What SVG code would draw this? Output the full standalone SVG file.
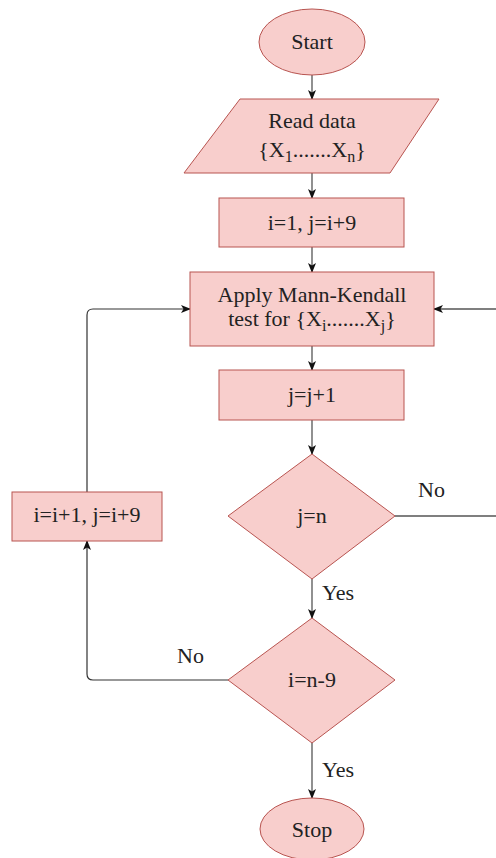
<svg xmlns="http://www.w3.org/2000/svg" width="496" height="858" viewBox="0 0 496 858">
<style>
.shape{fill:#f8cecc;stroke:#b85450;stroke-width:1}
.t{font-family:"Liberation Serif","Times New Roman",serif;font-size:22px;fill:#222;text-anchor:middle}
.lbl{font-family:"Liberation Serif","Times New Roman",serif;font-size:22px;fill:#222}
.c{fill:none;stroke:#555;stroke-width:1.3}
.c2{fill:none;stroke:#333;stroke-width:1.2}
</style>
<defs>
<marker id="arr" viewBox="0 0 10 8" refX="9" refY="4" markerWidth="10" markerHeight="8" markerUnits="userSpaceOnUse" orient="auto">
<path d="M0,0 L10,4 L0,8 L2.5,4 z" fill="#111"/>
</marker>
</defs>
<rect width="496" height="858" fill="#fff"/>
<g id="connectors">
<path class="c" d="M312,75 V99" marker-end="url(#arr)"/>
<path class="c" d="M312,173 V198" marker-end="url(#arr)"/>
<path class="c" d="M312,247 V272" marker-end="url(#arr)"/>
<path class="c" d="M312,346 V370" marker-end="url(#arr)"/>
<path class="c" d="M312,420 V454" marker-end="url(#arr)"/>
<path class="c" d="M312,579 V618" marker-end="url(#arr)"/>
<path class="c" d="M312,743 V798" marker-end="url(#arr)"/>
<path class="c" d="M395,516 H510 V309 H434" marker-end="url(#arr)"/>
<path class="c2" d="M87,492 V315 Q87,309 93,309 H190" marker-end="url(#arr)"/>
<path class="c2" d="M228,680 H93 Q87,680 87,674 V541" marker-end="url(#arr)"/>
</g>
<g id="start"><ellipse class="shape" cx="312" cy="42" rx="53" ry="33"/><text class="t" x="312" y="49">Start</text></g>
<g id="read"><polygon class="shape" points="240,99 439,99 390,173 184,173"/>
<text class="t" x="312" y="128">Read data</text>
<text class="t" x="312" y="157">{X<tspan font-size="16" dy="5">1</tspan><tspan dy="-5">.......X</tspan><tspan font-size="16" dy="5">n</tspan><tspan dy="-5">}</tspan></text></g>
<g id="init"><rect class="shape" x="219" y="198" width="185" height="49"/><text class="t" x="312" y="230">i=1, j=i+9</text></g>
<g id="apply"><rect class="shape" x="190" y="272" width="244" height="74"/>
<text class="t" x="312" y="302">Apply Mann-Kendall</text>
<text class="t" x="312" y="326">test for {X<tspan font-size="16" dy="5">i</tspan><tspan dy="-5">.......X</tspan><tspan font-size="16" dy="5">j</tspan><tspan dy="-5">}</tspan></text></g>
<g id="incj"><rect class="shape" x="219" y="370" width="185" height="50"/><text class="t" x="312" y="402">j=j+1</text></g>
<g id="djn"><polygon class="shape" points="312,454 395,516 312,579 228,516"/><text class="t" x="312" y="523">j=n</text></g>
<g id="inci"><rect class="shape" x="12" y="492" width="150" height="49"/><text class="t" x="87" y="522">i=i+1, j=i+9</text></g>
<g id="din"><polygon class="shape" points="312,618 395,680 312,743 228,680"/><text class="t" x="312" y="687">i=n-9</text></g>
<g id="stop"><ellipse class="shape" cx="312" cy="829" rx="52" ry="31"/><text class="t" x="312" y="837">Stop</text></g>
<g id="labels">
<text class="lbl" x="418" y="497">No</text>
<text class="lbl" x="322" y="600">Yes</text>
<text class="lbl" x="177" y="663">No</text>
<text class="lbl" x="322" y="777">Yes</text>
</g>
</svg>
